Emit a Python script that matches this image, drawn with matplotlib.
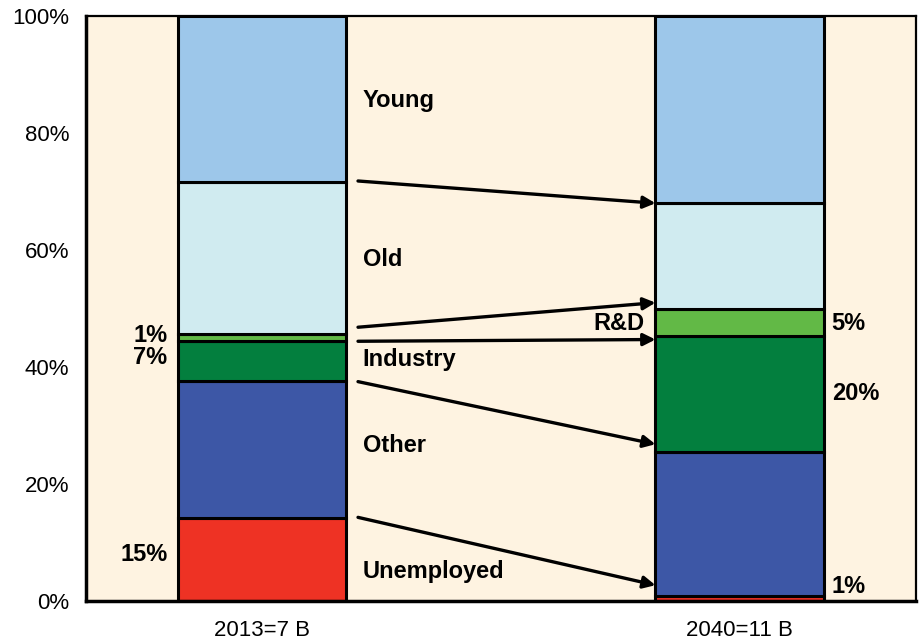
import numpy as np
import matplotlib
matplotlib.use('Agg')
import matplotlib.pyplot as plt

plt.rcParams['font.family'] = ['Liberation Sans', 'DejaVu Sans']

years = ['2013=7 B', '2040=11 B']
segments = ['Unemployed', 'Other', 'Industry', 'R&D', 'Old', 'Young']
share_2013 = [14.2, 23.4, 6.8, 1.3, 26.0, 28.3]
share_2040 = [0.9, 24.6, 19.8, 4.6, 18.1, 32.0]
colors = ['#ee3224', '#3d57a6', '#037f3e', '#62b946', '#d0ebf0', '#9dc7ea']

# arrows between the two bars (start %, end %)
arrow_from = [71.8, 46.8, 44.4, 37.5, 14.3]
arrow_to = [68.0, 51.0, 44.7, 26.8, 2.7]

# segment names placed between the bars
name_y = [5.0, 26.5, 41.2, None, 58.3, 85.6]
# value labels
left_labels = [('1%', 45.4), ('7%', 41.7), ('15%', 7.9)]
right_labels = [('5%', 47.5), ('20%', 35.5), ('1%', 2.4)]

fig = plt.figure(figsize=(9.21, 6.41), dpi=100)
ax = fig.add_axes([0.0934, 0.0624, 0.9012, 0.9126])
ax.set_facecolor('#fef3e1')

x = np.arange(len(years))
width = 0.352
for vals, xi in zip([share_2013, share_2040], x):
    bottom = 0
    for v, c in zip(vals, colors):
        ax.bar(xi, v, width, bottom=bottom, color=c, edgecolor='black',
               linewidth=2.2, zorder=2)
        bottom += v

x0 = width / 2 + 0.025
x1 = 1 - width / 2
for a, b in zip(arrow_from, arrow_to):
    ax.annotate('', xy=(x1, b), xytext=(x0, a),
                arrowprops=dict(arrowstyle='-|>', color='black', lw=2.4,
                                mutation_scale=18, shrinkA=0, shrinkB=0))

fs = 17
for name, yv in zip(segments, name_y):
    if yv is not None:
        ax.text(x0 + 0.01, yv, name, fontsize=fs, fontweight='bold',
                va='center', ha='left')
ax.text(x1 - 0.022, 47.5, 'R&D', fontsize=fs, fontweight='bold',
        va='center', ha='right')

for t, yv in left_labels:
    ax.text(-width / 2 - 0.022, yv, t, fontsize=fs, fontweight='bold',
            va='center', ha='right')
for t, yv in right_labels:
    ax.text(1 + width / 2 + 0.017, yv, t, fontsize=fs, fontweight='bold',
            va='center', ha='left')

ax.set_xlim(-0.3686, 1.3696)
ax.set_ylim(0, 100)
ax.set_yticks(np.arange(0, 101, 20))
ax.set_yticklabels([f'{v}%' for v in range(0, 101, 20)], fontsize=16)
ax.set_xticks(x)
ax.set_xticklabels(years, fontsize=16)
ax.tick_params(axis='both', length=0)
ax.tick_params(axis='y', pad=12)
ax.tick_params(axis='x', pad=14)

for side in ['left', 'bottom']:
    ax.spines[side].set_linewidth(2.5)
for side in ['top', 'right']:
    ax.spines[side].set_linewidth(1.6)

fig.savefig('out.png', dpi=100)
